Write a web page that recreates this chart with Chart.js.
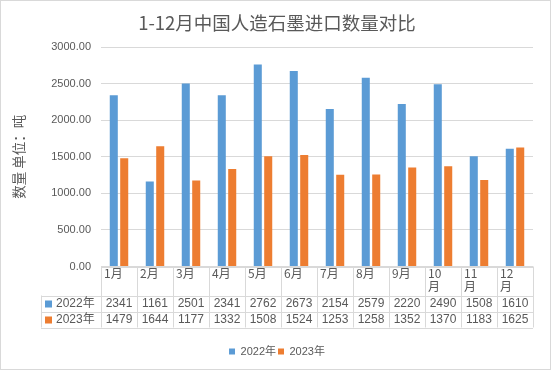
<!DOCTYPE html>
<html>
<head>
<meta charset="utf-8">
<script src="https://cdn.jsdelivr.net/npm/chart.js@4.4.0/dist/chart.umd.min.js"></script>
<style>
  html, body { margin: 0; padding: 0; background: #fff; }
  #wrap { width: 554px; height: 374px; }
</style>
</head>
<body>
<div id="wrap"><canvas id="c" width="554" height="374"></canvas></div>
<script>
// 1-12月中国人造石墨进口数量对比 (bar chart + data table)
const months = ['1月', '2月', '3月', '4月', '5月', '6月', '7月', '8月', '9月', '10月', '11月', '12月'];
const seriesNames = ['2022年', '2023年'];
const imports2022 = [2341, 1161, 2501, 2341, 2762, 2673, 2154, 2579, 2220, 2490, 1508, 1610];
const imports2023 = [1479, 1644, 1177, 1332, 1508, 1524, 1253, 1258, 1352, 1370, 1183, 1625];
const seriesColors = ['#5B9BD5', '#ED7D31'];

const textColor = '#595959';
const lineColor = '#d9d9d9';
const sansFont = "'Liberation Sans', 'Noto Sans CJK SC', sans-serif";
const narrowFont = "'Liberation Sans Narrow', 'Liberation Sans', 'Noto Sans CJK SC', sans-serif";
const cjkFont = "'Noto Sans CJK SC', sans-serif";

// draws the data table under the plot, Excel style
const dataTable = {
    id: 'dataTable',
    afterDraw(chart) {
        const { ctx, chartArea } = chart;
        const x = chart.scales.x;
        const n = months.length;
        const colW = chartArea.width / n;
        const top = chartArea.bottom;
        const catBottom = top + 29;
        const rowH = 16;
        const keyLeft = 41;
        const right = chartArea.right;
        const rows = [imports2022, imports2023];

        ctx.save();
        ctx.strokeStyle = lineColor;
        ctx.lineWidth = 1;
        ctx.beginPath();
        // horizontal lines
        const hl = (y, x0, x1) => { ctx.moveTo(x0, Math.round(y) + 0.5); ctx.lineTo(x1, Math.round(y) + 0.5); };
        hl(top, chartArea.left, right);
        hl(catBottom, keyLeft, right);
        hl(catBottom + rowH, keyLeft, right);
        hl(catBottom + rowH * 2, keyLeft, right);
        // vertical lines
        for (let i = 0; i <= n; i++) {
            const px = Math.round(chartArea.left + i * colW) + 0.5;
            ctx.moveTo(px, top);
            ctx.lineTo(px, catBottom + rowH * 2);
        }
        ctx.moveTo(keyLeft + 0.5, catBottom);
        ctx.lineTo(keyLeft + 0.5, catBottom + rowH * 2);
        ctx.stroke();

        // category labels (wrap long ones like Excel does)
        ctx.fillStyle = textColor;
        ctx.textBaseline = 'top';
        ctx.textAlign = 'left';
        ctx.font = '12px ' + cjkFont;
        months.forEach((m, i) => {
            const cx = chartArea.left + i * colW + 3;
            const lines = m.length > 2 ? [m.slice(0, -1), m.slice(-1)] : [m];
            lines.forEach((t, j) => ctx.fillText(t, cx, top + 1 + j * 13));
        });

        // series rows
        rows.forEach((vals, r) => {
            const cy = catBottom + rowH * r + rowH / 2 + 0.5;
            ctx.fillStyle = seriesColors[r];
            ctx.fillRect(keyLeft + 4, cy - 3.5, 7, 7);
            ctx.fillStyle = textColor;
            ctx.textBaseline = 'middle';
            ctx.textAlign = 'left';
            ctx.font = '12px ' + narrowFont;
            ctx.fillText(seriesNames[r], keyLeft + 15, cy);
            ctx.textAlign = 'center';
            vals.forEach((v, i) => {
                ctx.fillText(String(v), x.getPixelForValue(i), cy);
            });
        });

        // outer border of the chart
        ctx.strokeStyle = lineColor;
        ctx.strokeRect(0.5, 0.5, 550, 369);
        ctx.restore();
    }
};

new Chart(document.getElementById('c'), {
    type: 'bar',
    data: {
        labels: months,
        datasets: [
            { label: seriesNames[0], data: imports2022, backgroundColor: seriesColors[0] },
            { label: seriesNames[1], data: imports2023, backgroundColor: seriesColors[1] }
        ]
    },
    options: {
        responsive: false,
        animation: false,
        devicePixelRatio: 1,
        layout: { padding: { left: 0, right: 0, top: 0, bottom: 7 } },
        datasets: { bar: { categoryPercentage: 0.58, barPercentage: 0.77 } },
        plugins: {
            title: {
                display: true,
                text: '1-12月中国人造石墨进口数量对比',
                color: textColor,
                font: { family: cjkFont, size: 18.5, weight: 'normal' },
                padding: { top: 12, bottom: 12.8 }
            },
            legend: {
                position: 'bottom',
                labels: {
                    color: textColor,
                    font: { family: sansFont, size: 11 },
                    boxWidth: 6,
                    boxHeight: 6,
                    padding: 2
                }
            },
            tooltip: { enabled: false }
        },
        scales: {
            x: {
                grid: { display: false },
                border: { display: false },
                ticks: { display: false },
                afterFit: s => { s.height = 77.5; }
            },
            y: {
                min: 0,
                max: 3000,
                ticks: {
                    stepSize: 500,
                    color: textColor,
                    padding: 10,
                    font: { family: sansFont, size: 11 },
                    callback: v => v.toFixed(2)
                },
                grid: { color: lineColor, drawTicks: false },
                border: { display: false },
                title: {
                    display: true,
                    text: '数量 单位：吨',
                    color: textColor,
                    font: { family: cjkFont, size: 13.5 },
                    padding: { top: 11, bottom: 0 }
                },
                afterFit: s => { s.width = 101; }
            },
            // empty right-hand spacer so the plot ends where the reference does
            spacer: {
                position: 'right',
                grid: { display: false },
                border: { display: false },
                ticks: { display: false },
                afterFit: s => { s.width = 21; }
            }
        }
    },
    plugins: [dataTable]
});
</script>
</body>
</html>
